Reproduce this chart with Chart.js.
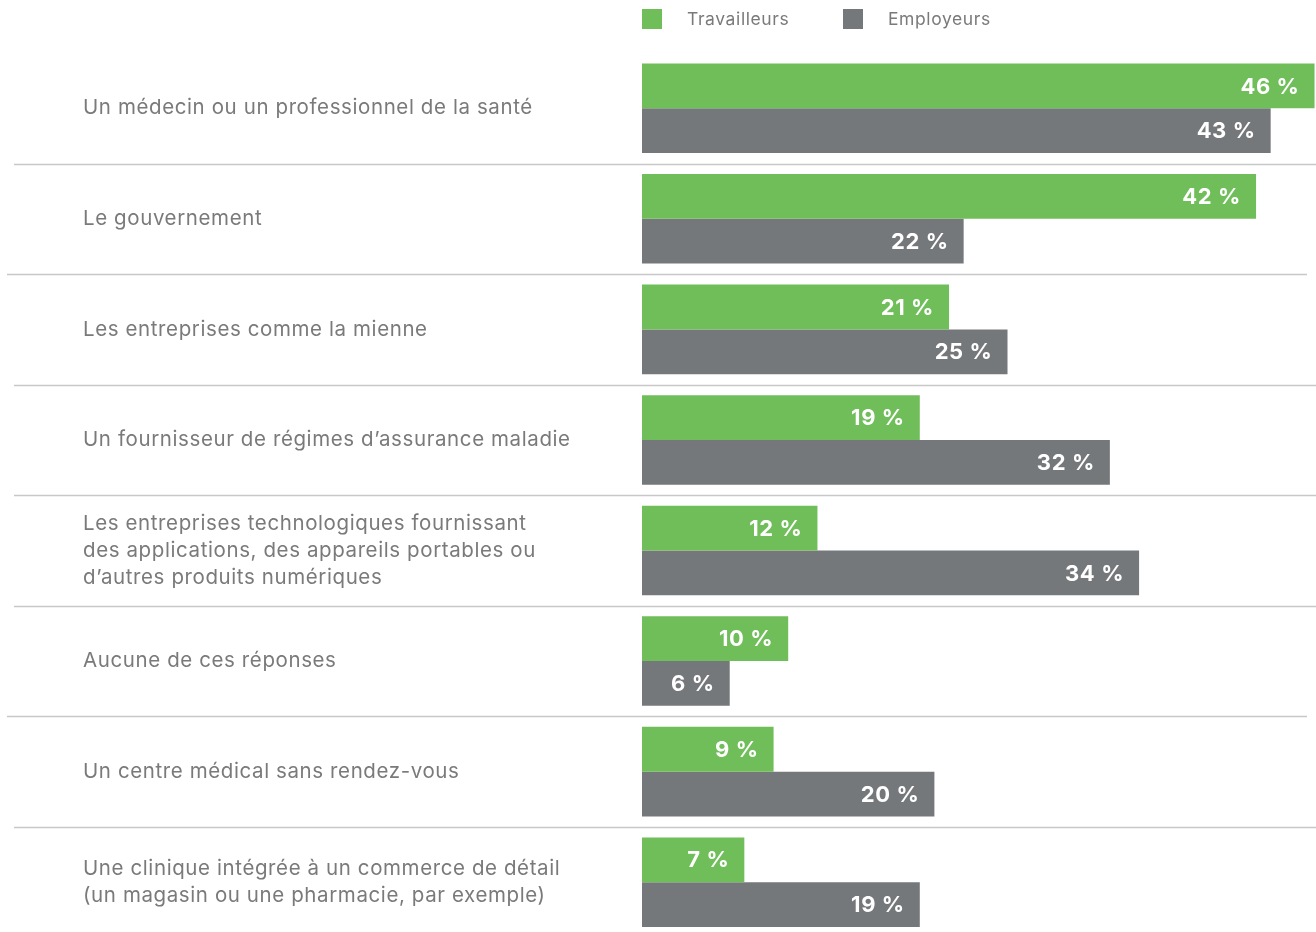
<!DOCTYPE html>
<html>
<head>
<meta charset="utf-8">
<script src="https://cdn.jsdelivr.net/npm/chart.js@4.4.1/dist/chart.umd.min.js"></script>
<style>
  html, body { margin: 0; padding: 0; background: #fff; overflow: hidden; }
  #wrap { width: 1316px; height: 951px; position: relative; }
</style>
</head>
<body>
<div id="wrap"><canvas id="c"></canvas></div>
<script>
const categories = [
  'Un médecin ou un professionnel de la santé',
  'Le gouvernement',
  'Les entreprises comme la mienne',
  'Un fournisseur de régimes d’assurance maladie',
  ['Les entreprises technologiques fournissant', 'des applications, des appareils portables ou', 'd’autres produits numériques'],
  'Aucune de ces réponses',
  'Un centre médical sans rendez-vous',
  ['Une clinique intégrée à un commerce de détail', '(un magasin ou une pharmacie, par exemple)']
];
const seriesNames = ['Travailleurs', 'Employeurs'];
const travailleurs = [46, 42, 21, 19, 12, 10, 9, 7];
const employeurs = [43, 22, 25, 32, 34, 6, 20, 19];

const GREEN = '#6fbe59';
const GREY = '#75787b';
const TEXT = '#7a7a7a';
const FONT = 'Inter, "Open Sans", sans-serif';
const SPACING = '0.6px';

const extras = {
  id: 'extras',
  beforeLayout(chart) { chart.ctx.letterSpacing = SPACING; },
  beforeDraw(chart) { chart.ctx.letterSpacing = SPACING; },
  afterDatasetsDraw(chart) {
    const ctx = chart.ctx;
    ctx.save();
    ctx.letterSpacing = SPACING;
    ctx.fillStyle = '#fff';
    ctx.font = 'bold 22px ' + FONT;
    ctx.textAlign = 'right';
    ctx.textBaseline = 'middle';
    chart.data.datasets.forEach((ds, di) => {
      chart.getDatasetMeta(di).data.forEach((bar, i) => {
        ctx.fillText(ds.data[i] + ' %', bar.x - 15, bar.y + 1);
      });
    });
    ctx.restore();
  },
  afterDraw(chart) {
    const ctx = chart.ctx;
    const y = chart.scales.y;
    const x = chart.scales.x;
    ctx.save();
    // separators between groups
    ctx.strokeStyle = '#c8c8c8';
    ctx.lineWidth = 1.5;
    for (let i = 1; i < categories.length; i++) {
      const py = Math.round((y.getPixelForValue(i - 1) + y.getPixelForValue(i)) / 2) + 0.5;
      const odd = (i === 2 || i === 6);
      ctx.beginPath();
      ctx.moveTo(odd ? 7 : 14, py);
      ctx.lineTo(odd ? 1307 : 1316, py);
      ctx.stroke();
    }
    // legend
    ctx.letterSpacing = SPACING;
    ctx.font = '17.5px ' + FONT;
    ctx.textBaseline = 'middle';
    ctx.textAlign = 'left';
    let lx = x.left;
    chart.data.datasets.forEach((ds) => {
      ctx.fillStyle = ds.backgroundColor;
      ctx.fillRect(lx, 9, 20, 20);
      ctx.fillStyle = TEXT;
      ctx.fillText(ds.label, lx + 45, 20);
      lx += 201;
    });
    ctx.restore();
  }
};

new Chart(document.getElementById('c'), {
  type: 'bar',
  data: {
    labels: categories,
    datasets: [
      { label: seriesNames[0], data: travailleurs, backgroundColor: GREEN },
      { label: seriesNames[1], data: employeurs, backgroundColor: GREY }
    ]
  },
  options: {
    indexAxis: 'y',
    responsive: true,
    maintainAspectRatio: false,
    animation: false,
    layout: { padding: { top: 53, left: 83, right: 0, bottom: 7 } },
    datasets: { bar: { categoryPercentage: 0.81, barPercentage: 1 } },
    plugins: { legend: { display: false }, tooltip: { enabled: false } },
    scales: {
      x: { display: false, min: 0, max: 46.1 },
      y: {
        grid: { display: false },
        border: { display: false },
        afterFit(scale) { scale.width = 559; },
        ticks: {
          crossAlign: 'far',
          color: TEXT,
          font: { family: FONT, size: 20.5, lineHeight: 1.32 },
          padding: 0
        }
      }
    }
  },
  plugins: [extras]
});
</script>
</body>
</html>
